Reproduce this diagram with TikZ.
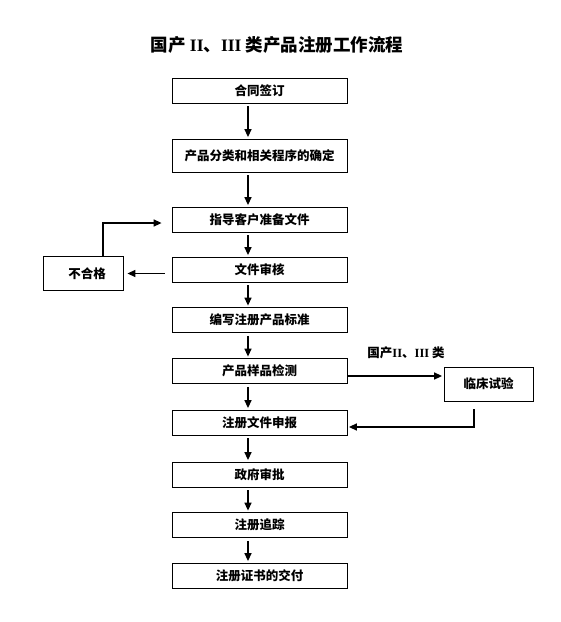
\documentclass[tikz,border=0pt]{standalone}
\usepackage{fontspec}
\setmainfont{Liberation Serif}
\newfontfamily\cjk{Noto Sans CJK SC}
\usetikzlibrary{arrows.meta,calc,positioning}

\begin{document}
\begin{tikzpicture}[x=1pt,y=-1pt,every node/.style={font=\cjk\bfseries\fontsize{12.5}{14}\selectfont},
  stepbox/.style={draw,line width=0.8pt,fill=white,minimum width=175pt,minimum height=25pt,inner sep=0pt},
  sidebox/.style={draw,line width=0.8pt,fill=white,minimum height=34pt,inner sep=0pt},
  flow/.style={line width=1.4pt,-{Triangle[length=8pt,width=7pt]},shorten <=3pt,shorten >=1.5pt}]
  \useasboundingbox (0,0) rectangle (561,622);
  \node[font=\cjk\bfseries\fontsize{17.5}{20}\selectfont] (title) at (277,45) {国产 {\rmfamily II}、{\rmfamily III} 类产品注册工作流程};
  \node[stepbox] (sign) at (259.5,90.5) {合同签订};
  \node[stepbox,minimum height=33pt] (class) at (259.5,155.5) {产品分类和相关程序的确定};
  \node[stepbox] (guide) at (259.5,219.5) {指导客户准备文件};
  \node[stepbox] (review) at (259.5,269.5) {文件审核};
  \node[stepbox] (standard) at (259.5,320) {编写注册产品标准};
  \node[stepbox] (test) at (259.5,371) {产品样品检测};
  \node[stepbox] (submit) at (259.5,422.5) {注册文件申报};
  \node[stepbox] (approve) at (259.5,474.5) {政府审批};
  \node[stepbox] (track) at (259.5,525) {注册追踪};
  \node[stepbox] (deliver) at (259.5,575.5) {注册证书的交付};
  \node[sidebox,minimum width=80pt] (fail) at (83,273.5) {\hspace{8pt}不合格};
  \node[sidebox,minimum width=89pt] (clinic) at (488.5,384) {临床试验\hspace{18pt}};
  \node (kind) at (406,353) {国产{\rmfamily II}、{\rmfamily III} 类};
  % main column
  \coordinate (ax) at (248,0);
  \foreach \a/\b in {sign/class,class/guide,guide/review,review/standard,standard/test,
    test/submit,submit/approve,approve/track,track/deliver}
    \draw[flow] (\a.south -| ax) -- (\b.north -| ax);
  % rejected documents go back
  \draw[flow,shorten <=7pt,shorten >=4pt] (review.west |- fail.east) -- (fail.east);
  \draw[flow,shorten <=0pt,shorten >=10pt] ($(fail.north)+(20,0)$) |- ($(guide.west)+(0,3.5)$);
  % clinical trial branch
  \coordinate (toclinic) at ($(test.east)+(0,5)$);
  \draw[flow,shorten <=0pt] (toclinic) -- (toclinic -| clinic.west);
  \draw[flow,shorten <=0pt] ($(clinic.south)+(-14.5,8)$) |- ($(submit.east)+(0,4.5)$);
\end{tikzpicture}
\end{document}
